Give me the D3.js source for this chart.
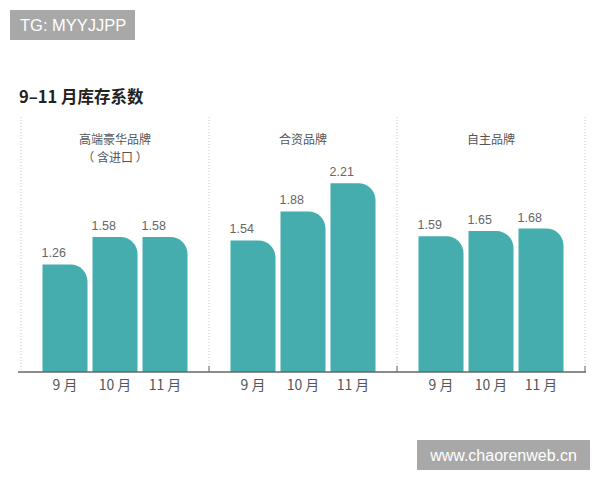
<!DOCTYPE html>
<html><head><meta charset="utf-8">
<script src="https://cdn.jsdelivr.net/npm/d3@7/dist/d3.min.js"></script>
<style>
html,body{margin:0;padding:0;background:#fff;}
svg{display:block;font-family:"Noto Sans CJK SC","Noto Sans",sans-serif;}
</style></head>
<body>
<svg id="chart" width="600" height="480"></svg>
<script>
const groups = ["高端豪华品牌", "合资品牌", "自主品牌"];
const groupSubtitles = ["（ 含进口 ）", "", ""];
const months = ["9 月", "10 月", "11 月"];
const values = [
  [1.26, 1.58, 1.58],
  [1.54, 1.88, 2.21],
  [1.59, 1.65, 1.68]
];
const title = "9–11 月库存系数";

const svg = d3.select("#chart");
const teal = "#45adad";
const baseY = 372;

// top watermark box
svg.append("rect").attr("x",10).attr("y",10).attr("width",125).attr("height",30).attr("fill","#a8a8a8");
svg.append("text").attr("x",20).attr("y",31).attr("fill","#fff").attr("font-size",16.5)
  .attr("font-family","Liberation Sans, Arial, sans-serif").text("TG: MYYJJPP");

// title
svg.append("text").attr("x",19).attr("y",103).attr("font-size",16.5).attr("font-weight",700)
  .attr("fill","#222").text(title);

const x0 = d3.scaleBand().domain(groups).range([21, 585]);
const x1 = d3.scaleBand().domain(months).range([-72.5, 72.5]).paddingInner(0.1);
const y = d3.scaleLinear().domain([0, 2.5]).range([baseY, baseY - 2.5*85.4]);

// dotted separators
const seps = [x0.range()[0]].concat(groups.map(g => x0(g) + x0.bandwidth()));
svg.selectAll("line.sep").data(seps).join("line")
  .attr("x1", d=>d).attr("x2", d=>d).attr("y1", 117).attr("y2", baseY)
  .attr("stroke", "#c8c8c8").attr("stroke-width", 1).attr("stroke-dasharray", "1,2");

function barPath(x, w, yt, yb, r) {
  r = Math.min(r, w, yb-yt);
  return `M${x},${yb}V${yt}H${x+w-r}A${r},${r} 0 0 1 ${x+w},${yt+r}V${yb}Z`;
}

groups.forEach((g, gi) => {
  const cx = x0(g) + x0.bandwidth()/2;
  const gEl = svg.append("g").attr("transform", `translate(${cx},0)`);
  gEl.append("text").attr("x", 0).attr("y", 144).attr("text-anchor","middle")
    .attr("font-size", 12).attr("fill", "#555").text(g);
  if (groupSubtitles[gi]) {
    gEl.append("text").attr("x", 0).attr("y", 162).attr("text-anchor","middle")
      .attr("font-size", 12).attr("fill", "#555").text(groupSubtitles[gi]);
  }
  const data = months.map((m, i) => ({m, v: values[gi][i]}));
  gEl.selectAll("path.bar").data(data).join("path")
    .attr("d", d => barPath(x1(d.m), x1.bandwidth(), y(d.v), y(0), 17))
    .attr("fill", teal);
  gEl.selectAll("text.val").data(data).join("text")
    .attr("x", d => x1(d.m) - 1).attr("y", d => y(d.v) - 7)
    .attr("font-size", 12.5).attr("fill", "#666").attr("font-weight", 300)
    .attr("font-family", "Liberation Sans, Arial, sans-serif")
    .text(d => d.v.toFixed(2));
  gEl.selectAll("text.mon").data(data).join("text")
    .attr("x", d => x1(d.m) + x1.bandwidth()/2).attr("y", 390)
    .attr("text-anchor","middle").attr("font-size", 14).attr("fill", "#555")
    .text(d => d.m);
});

// baseline
svg.append("line").attr("x1", 18).attr("x2", 586).attr("y1", baseY).attr("y2", baseY)
  .attr("stroke", "#666").attr("stroke-width", 1.5);
svg.selectAll("line.tick").data(seps.slice(1)).join("line")
  .attr("x1", d=>d).attr("x2", d=>d).attr("y1", baseY).attr("y2", baseY-6)
  .attr("stroke", "#666").attr("stroke-width", 1);

// bottom watermark box
svg.append("rect").attr("x",417).attr("y",440).attr("width",173).attr("height",30).attr("fill","#a8a8a8");
svg.append("text").attr("x",503.5).attr("y",461).attr("text-anchor","middle").attr("fill","#fff").attr("font-size",16)
  .attr("font-family","Liberation Sans, Arial, sans-serif").text("www.chaorenweb.cn");
</script>
</body></html>
